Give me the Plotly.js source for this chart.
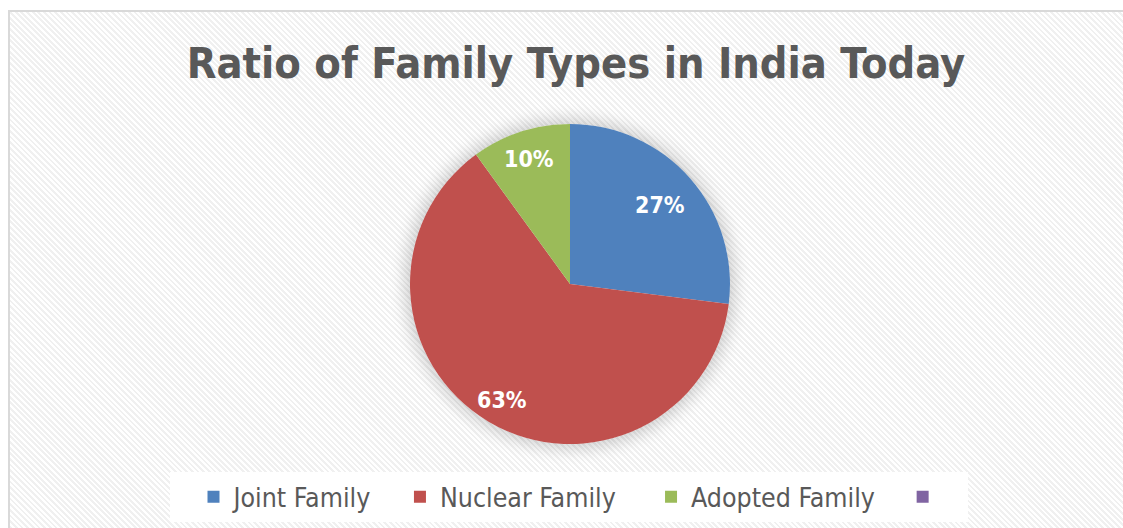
<!DOCTYPE html>
<html>
<head>
<meta charset="utf-8">
<script src="https://cdn.plot.ly/plotly-3.0.1.min.js"></script>
<style>
  html, body { margin:0; padding:0; background:#ffffff; }
  #wrap { position:relative; width:1123px; height:528px; overflow:hidden; background:#fff; }
  #frame { position:absolute; left:8px; top:10px; width:1140px; height:540px;
    border:2px solid #d9d9d9; box-sizing:border-box;
    background: repeating-linear-gradient(45deg, #ffffff 0px, #ffffff 2px, #f0f0f0 2px, #f0f0f0 4px); }
  #shadow { position:absolute; left:410px; top:124px; width:320px; height:320px; border-radius:50%;
    box-shadow: 0 0 16px 5px rgba(0,0,0,0.18); }
  #chart { position:absolute; left:0; top:0; width:1123px; height:528px; }
</style>
</head>
<body>
<div id="wrap">
  <div id="frame"></div>
  <div id="shadow"></div>
  <div id="chart"></div>
</div>
<script>
const titleText = "Ratio of Family Types in India Today";
const categories = ["Joint Family", "Nuclear Family", "Adopted Family", ""];
const shares = [27, 63, 10, 0];
const sliceColors = ["#4f81bd", "#c0504d", "#9bbb59", "#8064a2"];

// legend spacing (style only): trailing non-breaking spaces to mimic Excel legend spacing
const legendPad = [3, 4, 3, 2];
const legendNames = categories.map((c, i) => c + "\u00a0".repeat(legendPad[i]));

// label radius as a fraction of the pie radius (style only)
const labelRadius = [0.75, 0.84, 0.82, 0.8];

const FONT = "Liberation Sans Narrow, DejaVu Sans Condensed, Open Sans, sans-serif";

const trace = {
  type: "pie",
  labels: legendNames,
  values: shares,
  sort: false,
  direction: "clockwise",
  rotation: 0,
  marker: { colors: sliceColors, line: { width: 0 } },
  textinfo: "none",
  hoverinfo: "label+percent",
  showlegend: true
};

// Data labels placed at each slice's mid-angle, computed from the shares
const total = shares.reduce((a, b) => a + b, 0);
const annotations = [];
let cum = 0;
shares.forEach((v, i) => {
  const mid = (cum + v / 2) / total * 2 * Math.PI; // clockwise from 12 o'clock
  cum += v;
  if (v <= 0) return;
  const r = labelRadius[i];
  annotations.push({
    xref: "paper", yref: "paper",
    x: 0.5 + Math.sin(mid) * r * 160 / 640,
    y: 0.5 + Math.cos(mid) * r * 160 / 320,
    text: Math.round(v / total * 100) + "%",
    showarrow: false,
    xanchor: "center", yanchor: "middle",
    font: { family: FONT, size: 23, color: "#ffffff", weight: 700 }
  });
});

// paper coords of the 640x320 domain starting at (250,124)
const toPX = px => (px - 250) / 640;
const toPY = py => (444 - py) / 320;

const layout = {
  width: 1123, height: 528,
  margin: { l: 250, r: 233, t: 124, b: 84, autoexpand: false },
  paper_bgcolor: "rgba(0,0,0,0)",
  plot_bgcolor: "rgba(0,0,0,0)",
  title: {
    text: titleText,
    x: 576/1123, xanchor: "center", xref: "container",
    y: 1 - 63/528, yanchor: "middle", yref: "container",
    font: { family: FONT, size: 43, color: "#595959", weight: 700 }
  },
  shapes: [{
    type: "rect", xref: "paper", yref: "paper", layer: "below",
    x0: toPX(170), x1: toPX(968), y0: toPY(472), y1: toPY(522),
    fillcolor: "#ffffff", line: { width: 0 }
  }],
  annotations: annotations,
  legend: {
    orientation: "h",
    xref: "paper", yref: "paper",
    x: toPX(193.5), xanchor: "left",
    y: toPY(497), yanchor: "middle",
    bgcolor: "rgba(0,0,0,0)",
    font: { family: FONT, size: 26.5, color: "#595959" },
    traceorder: "normal"
  }
};

Plotly.newPlot("chart", [trace], layout, { displayModeBar: false, staticPlot: true });
</script>
</body>
</html>
